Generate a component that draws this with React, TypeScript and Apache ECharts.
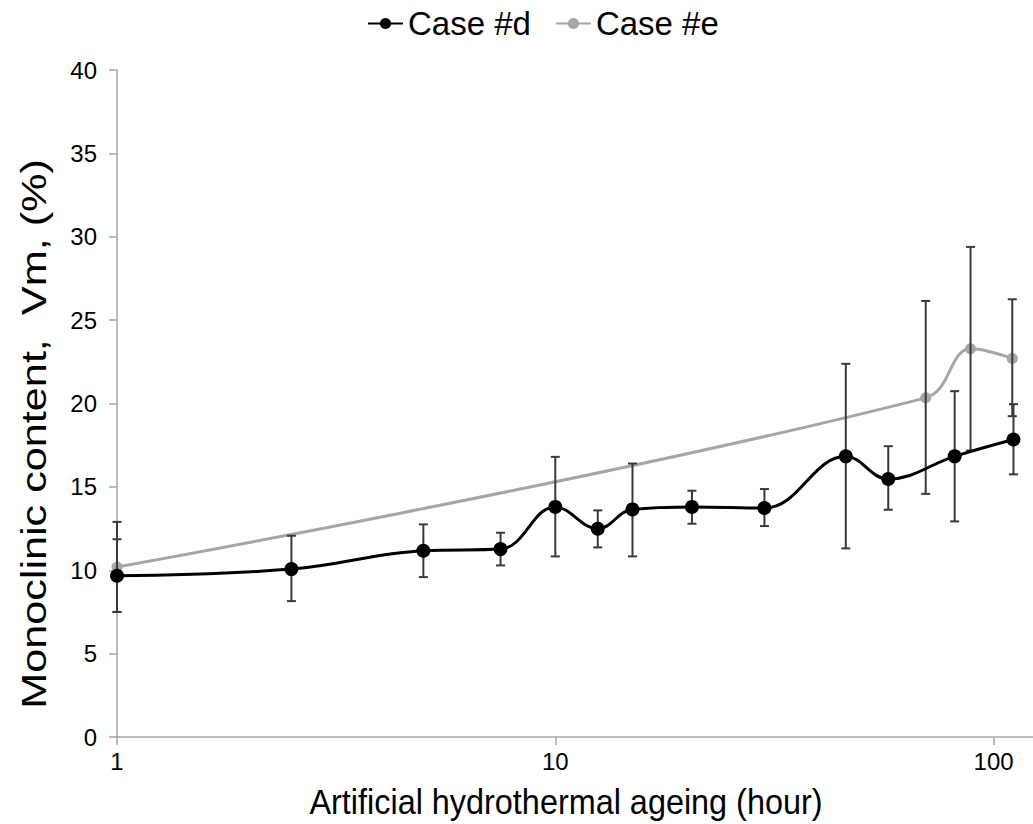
import React, { useEffect, useRef } from "react";
import * as echarts from "echarts";

// Case #d (black)
const hoursD = [1, 2.5, 5, 7.5, 10, 12.5, 15, 20.5, 30, 46, 57.5, 81.5, 111];
const vmD = [9.67, 10.07, 11.17, 11.27, 13.8, 12.49, 13.65, 13.8, 13.73, 16.83, 15.47, 16.83, 17.84];
const lowD = [7.5, 8.15, 9.59, 10.29, 10.83, 11.37, 10.83, 12.79, 12.65, 11.31, 13.63, 12.93, 15.75];
const highD = [11.86, 12.07, 12.75, 12.25, 16.8, 13.59, 16.4, 14.77, 14.87, 22.38, 17.44, 20.74, 19.96];

// Case #e (grey)
const hoursE = [1, 70, 88.6, 110.3];
const vmE = [10.2, 20.34, 23.28, 22.7];
const lowE = [7.5, 14.58, 17.18, 19.24];
const highE = [12.9, 26.15, 29.39, 26.25];

const xTicks = [1, 10, 100];
const FONT = "'Liberation Sans', Arial, sans-serif";

export default function App() {
  const ref = useRef<HTMLDivElement>(null);
  useEffect(() => {
    if (!ref.current) return;
    const chart = echarts.init(ref.current, undefined, { renderer: "svg" });
    const errData = [
      ...hoursE.map((h, i) => [h, lowE[i], highE[i]]),
      ...hoursD.map((h, i) => [h, lowD[i], highD[i]]),
    ];
    const option: any = {
      animation: false,
      backgroundColor: "#ffffff",
      textStyle: { fontFamily: FONT },
      legend: {
        top: 2,
        left: 362,
        itemWidth: 35,
        itemHeight: 14,
        itemGap: 24,
        textStyle: { fontSize: 33, color: "#000", fontFamily: FONT },
        data: ["Case #d", "Case #e"],
      },
      grid: { left: 117, right: 0, top: 70, bottom: 87 },
      xAxis: {
        type: "log",
        logBase: 10,
        min: 1,
        max: 123,
        axisLine: { show: true, lineStyle: { color: "#a6a6a6", width: 1.5 } },
        axisTick: { show: true, length: 8, customValues: xTicks, lineStyle: { color: "#a6a6a6", width: 1.5 } },
        axisLabel: { customValues: xTicks, fontSize: 24, color: "#000", margin: 12, fontFamily: FONT },
        splitLine: { show: false },
        minorTick: { show: false },
      },
      yAxis: {
        type: "value",
        min: 0,
        max: 40,
        interval: 5,
        axisLine: { show: true, lineStyle: { color: "#a6a6a6", width: 1.5 } },
        axisTick: { show: true, length: 8, lineStyle: { color: "#a6a6a6", width: 1.5 } },
        axisLabel: { fontSize: 24, color: "#000", margin: 20, fontFamily: FONT },
        splitLine: { show: false },
      },
      graphic: [
        {
          type: "text",
          x: 33,
          y: 434,
          rotation: Math.PI / 2,
          scaleX: 1.2,
          style: {
            text: "Monoclinic content,  Vm, (%)",
            fontSize: 36,
            fontFamily: FONT,
            fill: "#000",
            align: "center",
            verticalAlign: "middle",
          },
        },
        {
          type: "text",
          x: 566,
          y: 801,
          scaleX: 0.9,
          style: {
            text: "Artificial hydrothermal ageing (hour)",
            fontSize: 36,
            fontFamily: FONT,
            fill: "#000",
            align: "center",
            verticalAlign: "middle",
          },
        },
      ],
      series: [
        {
          name: "Case #e",
          type: "line",
          data: hoursE.map((h, i) => [h, vmE[i]]),
          smooth: 0.4,
          symbol: "circle",
          symbolSize: 11,
          itemStyle: { color: "#a6a6a6" },
          lineStyle: { color: "#a6a6a6", width: 3 },
          z: 3,
        },
        {
          name: "errors",
          type: "custom",
          data: errData,
          z: 4,
          renderItem: (params: any, api: any) => {
            const x = api.value(0);
            const top = api.coord([x, api.value(2)]);
            const bot = api.coord([x, api.value(1)]);
            const hw = 4.5;
            const style = { stroke: "#3a3a3a", lineWidth: 2 };
            return {
              type: "group",
              children: [
                { type: "line", shape: { x1: top[0], y1: top[1], x2: bot[0], y2: bot[1] }, style },
                { type: "line", shape: { x1: top[0] - hw, y1: top[1], x2: top[0] + hw, y2: top[1] }, style },
                { type: "line", shape: { x1: bot[0] - hw, y1: bot[1], x2: bot[0] + hw, y2: bot[1] }, style },
              ],
            };
          },
        },
        {
          name: "Case #d",
          type: "line",
          data: hoursD.map((h, i) => [h, vmD[i]]),
          smooth: 0.4,
          symbol: "circle",
          symbolSize: 14,
          itemStyle: { color: "#000000" },
          lineStyle: { color: "#000000", width: 3 },
          z: 5,
        },
      ],
    };
    chart.setOption(option);
    return () => chart.dispose();
  }, []);
  return (
    <div style={{ position: "absolute", left: 0, top: 0 }}>
      <div ref={ref} style={{ width: 1033, height: 824 }} />
    </div>
  );
}
